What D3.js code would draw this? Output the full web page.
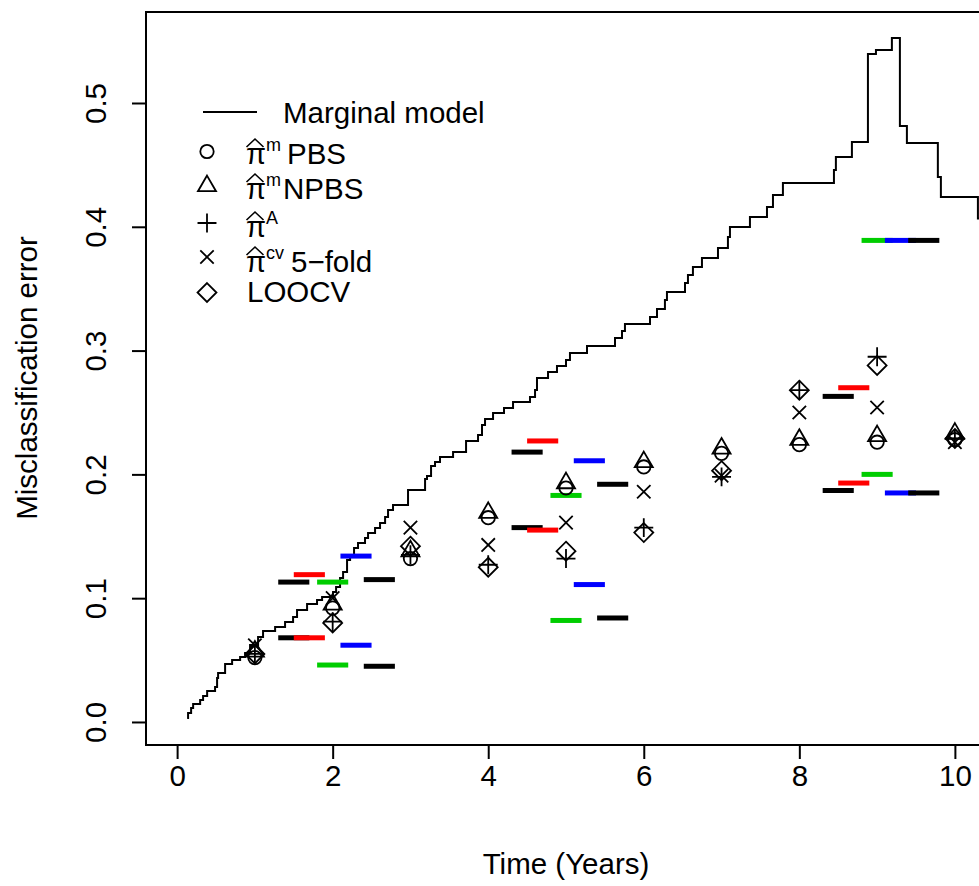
<!DOCTYPE html>
<html>
<head>
<meta charset="utf-8">
<script src="https://cdn.jsdelivr.net/npm/d3@7"></script>
<style>
  html, body { margin: 0; padding: 0; background: #fff; }
  text { font-family: "Liberation Sans", Arial, Helvetica, sans-serif; fill: #000; }
</style>
</head>
<body>
<svg id="chart" width="979" height="886"></svg>
<script>
// ---------------- DATA ----------------
const xTicks = [0, 2, 4, 6, 8, 10];
const yTicks = [0.0, 0.1, 0.2, 0.3, 0.4, 0.5];

// Marginal model step function (time, error)
const stepTime = [0.129,0.141,0.180,0.206,0.296,0.334,0.386,0.488,0.514,0.527,0.617,0.707,0.810,0.874,0.938,
  1.041,1.105,1.260,1.388,1.491,1.542,1.671,1.799,1.864,2.005,2.044,2.095,2.134,2.185,2.224,2.275,2.326,
  2.416,2.455,2.545,2.609,2.674,2.712,2.776,2.969,3.188,3.213,3.265,3.316,3.380,3.548,3.715,3.869,3.920,
  3.959,4.062,4.203,4.319,4.537,4.602,4.627,4.769,4.884,5.000,5.051,5.270,5.630,5.720,5.758,6.080,6.170,
  6.272,6.298,6.530,6.568,6.632,6.748,6.954,7.082,7.108,7.365,7.584,7.661,7.789,8.445,8.470,8.676,8.882,
  8.985,9.190,9.293,9.383,9.781,9.820,10.296,10.45];
const stepErr = [0.0032,0.0073,0.0113,0.0145,0.0178,0.0210,0.0250,0.0283,0.0355,0.0396,0.0469,0.0501,0.0525,0.0557,0.0622,
  0.0687,0.0735,0.0767,0.0808,0.0848,0.0905,0.0953,0.0985,0.1010,0.1050,0.1090,0.1163,0.1212,0.1309,0.1349,0.1405,0.1446,
  0.1486,0.1527,0.1567,0.1607,0.1656,0.1712,0.1753,0.1874,0.1963,0.1987,0.2068,0.2100,0.2141,0.2181,0.2270,0.2318,0.2399,
  0.2447,0.2496,0.2536,0.2585,0.2625,0.2682,0.2779,0.2827,0.2876,0.2924,0.2981,0.3037,0.3102,0.3158,0.3215,0.3271,0.3336,
  0.3409,0.3473,0.3546,0.3611,0.3675,0.3748,0.3829,0.3918,0.3998,0.4079,0.4160,0.4257,0.4354,0.4459,0.4564,0.4685,0.5396,
  0.5428,0.5525,0.4814,0.4677,0.4402,0.4241,0.4067,0.4067];

// Point estimates at each year
const years = [1, 2, 3, 4, 5, 6, 7, 8, 9, 10];
const pbs   = [0.052, 0.092, 0.132, 0.165, 0.189, 0.206, 0.217, 0.224, 0.226, 0.228]; // circle
const npbs  = [0.057, 0.095, 0.138, 0.169, 0.193, 0.210, 0.221, 0.228, 0.231, 0.233]; // triangle
const piA   = [0.055, 0.081, 0.135, 0.127, 0.132, 0.157, 0.198, 0.268, 0.295, 0.229]; // plus
const cv5   = [0.062, 0.100, 0.157, 0.143, 0.161, 0.186, 0.199, 0.250, 0.254, 0.226]; // x
const loocv = [0.055, 0.080, 0.142, 0.125, 0.138, 0.153, 0.203, 0.268, 0.288, 0.229]; // diamond

// Interval bars at selected years
const segYears = [2, 5, 9];
const segColors = ["#000000", "#FF0000", "#00CD00", "#0000FF", "#000000"];
const segStart = [-0.7, -0.5, -0.2, 0.1, 0.4];   // start relative to year (years)
const segLen = 0.4;
const segUpper = [
  [0.113, 0.218, 0.263],
  [0.119, 0.227, 0.270],
  [0.113, 0.183, 0.389],
  [0.134, 0.211, 0.389],
  [0.115, 0.192, 0.389]
];
const segLower = [
  [0.068, 0.157, 0.187],
  [0.068, 0.155, 0.193],
  [0.046, 0.082, 0.200],
  [0.062, 0.111, 0.185],
  [0.045, 0.084, 0.185]
];

// ---------------- CHART ----------------
const svg = d3.select("#chart");
svg.append("rect").attr("width", 979).attr("height", 886).attr("fill", "#fff");

const x = d3.scaleLinear().domain([-0.4, 10.4]).range([146, 986]);
const y = d3.scaleLinear().domain([-0.0186, 0.5735]).range([745, 12]);

const FS = 29.5;
const R = 6.7;

svg.append("defs").append("clipPath").attr("id", "clip")
  .append("rect").attr("x", 146).attr("y", 12).attr("width", 840).attr("height", 733);

// box
svg.append("rect").attr("x", 146).attr("y", 12).attr("width", 840).attr("height", 733)
  .attr("fill", "none").attr("stroke", "#000").attr("stroke-width", 2);

// x axis
const gx = svg.append("g").attr("transform", "translate(0,745)")
  .call(d3.axisBottom(x).tickValues(xTicks).tickSize(14).tickFormat(d3.format("d")));
gx.select(".domain").attr("d", `M${x(0)},0H${x(10)}`).attr("stroke-width", 2);
gx.selectAll(".tick line").attr("stroke-width", 2);
gx.selectAll(".tick text").attr("y", 41).attr("dy", null)
  .style("font-size", FS + "px").style("font-family", "Liberation Sans, Arial, sans-serif");

// y axis
const gy = svg.append("g").attr("transform", "translate(146,0)")
  .call(d3.axisLeft(y).tickValues(yTicks).tickSize(14).tickFormat(d3.format(".1f")));
gy.select(".domain").attr("d", `M0,${y(0)}V${y(0.5)}`).attr("stroke-width", 2);
gy.selectAll(".tick line").attr("stroke-width", 2);
gy.selectAll(".tick text")
  .attr("x", null).attr("dy", null)
  .attr("text-anchor", "middle")
  .attr("transform", "translate(-40,0) rotate(-90)")
  .style("font-size", FS + "px").style("font-family", "Liberation Sans, Arial, sans-serif");

// axis titles
svg.append("text").attr("x", 566).attr("y", 874).attr("text-anchor", "middle")
  .style("font-size", FS + "px").text("Time (Years)");
svg.append("text").attr("transform", "translate(37,378) rotate(-90)").attr("text-anchor", "middle")
  .style("font-size", FS + "px").text("Misclassification error");

const plot = svg.append("g").attr("clip-path", "url(#clip)");

// step line
const stepData = stepTime.map((t, i) => [t, stepErr[i]]);
plot.append("path").datum(stepData)
  .attr("d", d3.line().x(d => x(d[0])).y(d => y(d[1])).curve(d3.curveStepAfter))
  .attr("fill", "none").attr("stroke", "#000").attr("stroke-width", 2);

// interval segments
segColors.forEach((col, m) => {
  segYears.forEach((yr, j) => {
    [segUpper[m][j], segLower[m][j]].forEach(v => {
      plot.append("line")
        .attr("x1", x(yr + segStart[m])).attr("x2", x(yr + segStart[m] + segLen))
        .attr("y1", y(v)).attr("y2", y(v))
        .attr("stroke", col).attr("stroke-width", 5).attr("stroke-linecap", "butt");
    });
  });
});

// symbol path generators
function shapePath(type, cx, cy) {
  if (type === "circle") {
    return `M${cx - R},${cy}a${R},${R} 0 1,0 ${2 * R},0a${R},${R} 0 1,0 ${-2 * R},0Z`;
  }
  if (type === "triangle") {
    const r = 1.555 * R, xc = r * Math.sqrt(3) / 2;
    return `M${cx},${cy - r}L${cx + xc},${cy + r / 2}L${cx - xc},${cy + r / 2}Z`;
  }
  if (type === "plus") {
    const h = Math.SQRT2 * R;
    return `M${cx - h},${cy}H${cx + h}M${cx},${cy - h}V${cy + h}`;
  }
  if (type === "cross") {
    const h = R;
    return `M${cx - h},${cy - h}L${cx + h},${cy + h}M${cx - h},${cy + h}L${cx + h},${cy - h}`;
  }
  if (type === "diamond") {
    const h = Math.SQRT2 * R;
    return `M${cx},${cy - h}L${cx + h},${cy}L${cx},${cy + h}L${cx - h},${cy}Z`;
  }
}

const series = [
  { vals: pbs, shape: "circle" },
  { vals: npbs, shape: "triangle" },
  { vals: piA, shape: "plus" },
  { vals: cv5, shape: "cross" },
  { vals: loocv, shape: "diamond" }
];
series.forEach(s => {
  plot.selectAll(null).data(years.map((yr, i) => [yr, s.vals[i]])).enter()
    .append("path")
    .attr("d", d => shapePath(s.shape, x(d[0]), y(d[1])))
    .attr("fill", "none").attr("stroke", "#000").attr("stroke-width", 1.8);
});

// ---------------- LEGEND ----------------
const lg = svg.append("g");
lg.append("line").attr("x1", 203).attr("x2", 257).attr("y1", 112).attr("y2", 112)
  .attr("stroke", "#000").attr("stroke-width", 2);
lg.append("text").attr("x", 283).attr("y", 123).style("font-size", FS + "px").text("Marginal model");

const legSyms = [
  { shape: "circle", cy: 151.5 },
  { shape: "triangle", cy: 186 },
  { shape: "plus", cy: 223 },
  { shape: "cross", cy: 257 },
  { shape: "diamond", cy: 292.5 }
];
legSyms.forEach(s => {
  lg.append("path").attr("d", shapePath(s.shape, 207, s.cy))
    .attr("fill", "none").attr("stroke", "#000").attr("stroke-width", 1.8);
});

function piHat(base, sup, supX, rest, restX) {
  lg.append("text").attr("x", 246).attr("y", base).style("font-size", "29px").text("π");
  const pc = 255, top = base - 25;
  lg.append("path").attr("d", `M${pc - 8.5},${top + 8}L${pc},${top}L${pc + 8.5},${top + 8}`)
    .attr("fill", "none").attr("stroke", "#000").attr("stroke-width", 1.6);
  lg.append("text").attr("x", supX).attr("y", base - 13).style("font-size", "18px").text(sup);
  if (rest) lg.append("text").attr("x", restX).attr("y", base).style("font-size", FS + "px").text(rest);
}
piHat(164, "m", 266, "PBS", 287);
piHat(199, "m", 266, "NPBS", 283);
piHat(237, "A", 266, null, 0);
piHat(272, "cv", 266, "5\u2212fold", 291);
lg.append("text").attr("x", 247).attr("y", 302).style("font-size", FS + "px").text("LOOCV");
</script>
</body>
</html>
